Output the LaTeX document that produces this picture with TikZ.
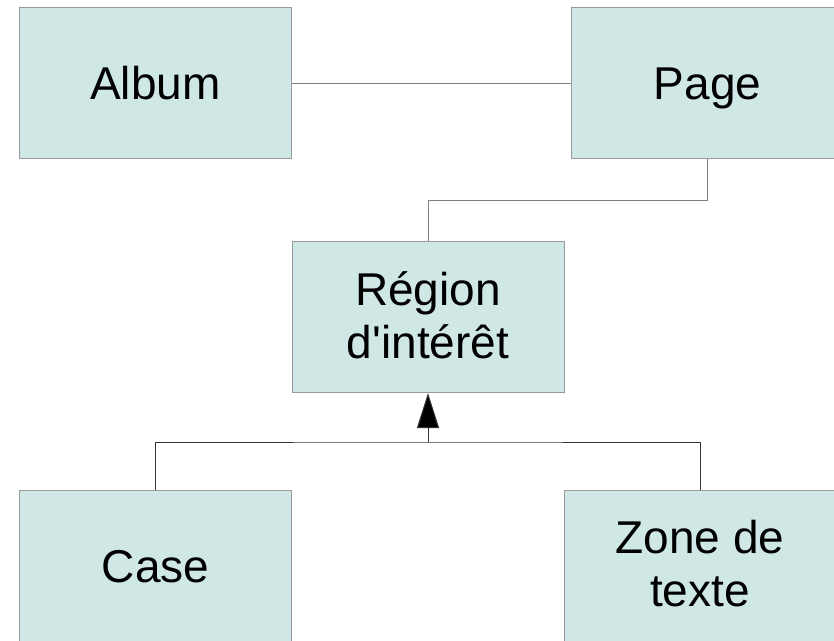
\documentclass[tikz,border=0pt]{standalone}
\usepackage{fontspec}
\setmainfont{Liberation Sans}
\usetikzlibrary{arrows.meta}
\definecolor{boxfill}{HTML}{CFE7E5}
\definecolor{boxline}{HTML}{9A9A9A}
\definecolor{linkgray}{HTML}{808080}
\begin{document}
\begin{tikzpicture}[x=1pt,y=-1pt,
  entity/.style={draw=boxline, fill=boxfill, line width=1pt, minimum width=272pt, minimum height=151pt,
    inner sep=0pt, align=center, font=\fontsize{46}{53}\selectfont},
  oneline/.style={text height=33pt, text depth=0pt},
  assoc/.style={draw=linkgray, line width=1pt},
  inherit/.style={draw=black!80, line width=1pt}]
\useasboundingbox (0,0) rectangle (834,640);
\node[entity] (album) at (155.5,83) {};
\node[oneline, font=\fontsize{46}{53}\selectfont, inner sep=0pt] (albumtext) at (album.center) {Album};
\node[entity] (page) at (707.5,83) {};
\node[oneline, font=\fontsize{46}{53}\selectfont, inner sep=0pt] (pagetext) at (page.center) {Page};
\node[entity] (region) at (428,317) {};
\node[font=\fontsize{46}{53}\selectfont, align=center, inner sep=0pt] (regiontext) at (428,315) {Région\\d\textquotesingle intérêt};
\node[entity] (case) at (155.5,566) {};
\node[oneline, font=\fontsize{46}{53}\selectfont, inner sep=0pt] (casetext) at (case.center) {Case};
\node[entity] (zone) at (700,566) {};
\node[font=\fontsize{46}{53}\selectfont, align=center, inner sep=0pt] (zonetext) at (700,564) {Zone de\\texte};
\coordinate (join) at (428,442);
\draw[assoc] (album.east) -- (page.west);
\draw[assoc] (page.south) |- (428,200) -- (region.north);
\draw[inherit] (case.north) |- (join) -| (zone.north);
\draw[inherit, -{Triangle[width=22pt,length=35pt,fill=black]}] (join) -- (region.south);
\end{tikzpicture}
\end{document}
